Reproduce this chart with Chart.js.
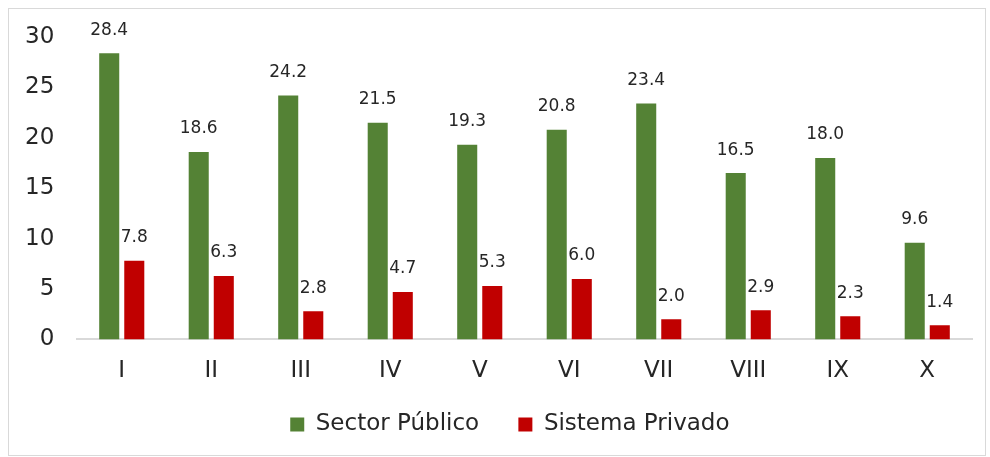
<!DOCTYPE html>
<html>
<head>
<meta charset="utf-8">
<script src="https://cdn.jsdelivr.net/npm/chart.js@4/dist/chart.umd.min.js"></script>
<style>
  html, body { margin: 0; padding: 0; background: #fff; }
  #box { position: absolute; left: 8px; top: 8px; width: 976px; height: 446px; border: 1px solid #d9d9d9; }
</style>
</head>
<body>
<div id="box"><canvas id="thisChart"></canvas></div>
<script>
const regiones = ['I', 'II', 'III', 'IV', 'V', 'VI', 'VII', 'VIII', 'IX', 'X'];
const sectorPublico = [28.4, 18.6, 24.2, 21.5, 19.3, 20.8, 23.4, 16.5, 18.0, 9.6];
const sistemaPrivado = [7.8, 6.3, 2.8, 4.7, 5.3, 6.0, 2.0, 2.9, 2.3, 1.4];
const yTicks = [0, 5, 10, 15, 20, 25, 30];

const fuente = "'DejaVu Sans', sans-serif";
const texto = '#262626';

// draw value over each bar
const valueLabels = {
    id: 'valueLabels',
    afterDatasetsDraw(chart) {
        const ctx = chart.ctx;
        ctx.save();
        ctx.font = '17px ' + fuente;
        ctx.fillStyle = texto;
        ctx.textAlign = 'center';
        ctx.textBaseline = 'middle';
        chart.data.datasets.forEach((ds, i) => {
            chart.getDatasetMeta(i).data.forEach((bar, j) => {
                ctx.fillText(ds.data[j].toFixed(1), bar.x, bar.y - 23);
            });
        });
        ctx.restore();
    }
};

const ctx = document.getElementById('thisChart').getContext('2d');
const myChart = new Chart(ctx, {
    type: 'bar',
    data: {
        labels: regiones,
        datasets: [{
            label: 'Sector Público',
            data: sectorPublico,
            backgroundColor: '#548235',
            categoryPercentage: 0.56,
            barPercentage: 0.8
        }, {
            label: 'Sistema Privado',
            data: sistemaPrivado,
            backgroundColor: '#c00000',
            categoryPercentage: 0.56,
            barPercentage: 0.8
        }]
    },
    options: {
        responsive: true,
        maintainAspectRatio: false,
        animation: false,
        layout: { padding: { top: 28, right: 13, left: 0, bottom: 9 } },
        scales: {
            x: {
                grid: { display: false, drawTicks: false },
                border: { color: '#d9d9d9', width: 2 },
                ticks: { color: texto, font: { size: 23, family: fuente }, padding: 18 }
            },
            y: {
                min: 0,
                max: 30,
                afterBuildTicks: (scale) => { scale.ticks = yTicks.map(v => ({ value: v })); },
                afterFit: (scale) => { scale.width = 68; },
                grid: { display: false, drawTicks: false },
                border: { display: false },
                ticks: {
                    color: texto,
                    font: { size: 23, family: fuente },
                    padding: 8,
                    callback: (v) => v + '  '
                }
            }
        },
        plugins: {
            legend: {
                position: 'bottom',
                fullSize: false,
                labels: {
                    color: texto,
                    font: { size: 23, family: fuente },
                    boxWidth: 14,
                    boxHeight: 14,
                    padding: 10,
                    generateLabels: (chart) => Chart.defaults.plugins.legend.labels.generateLabels(chart)
                        .map((item) => Object.assign(item, { text: item.text + '    ' }))
                }
            },
            tooltip: { enabled: false }
        }
    },
    plugins: [valueLabels]
});
</script>
</body>
</html>
